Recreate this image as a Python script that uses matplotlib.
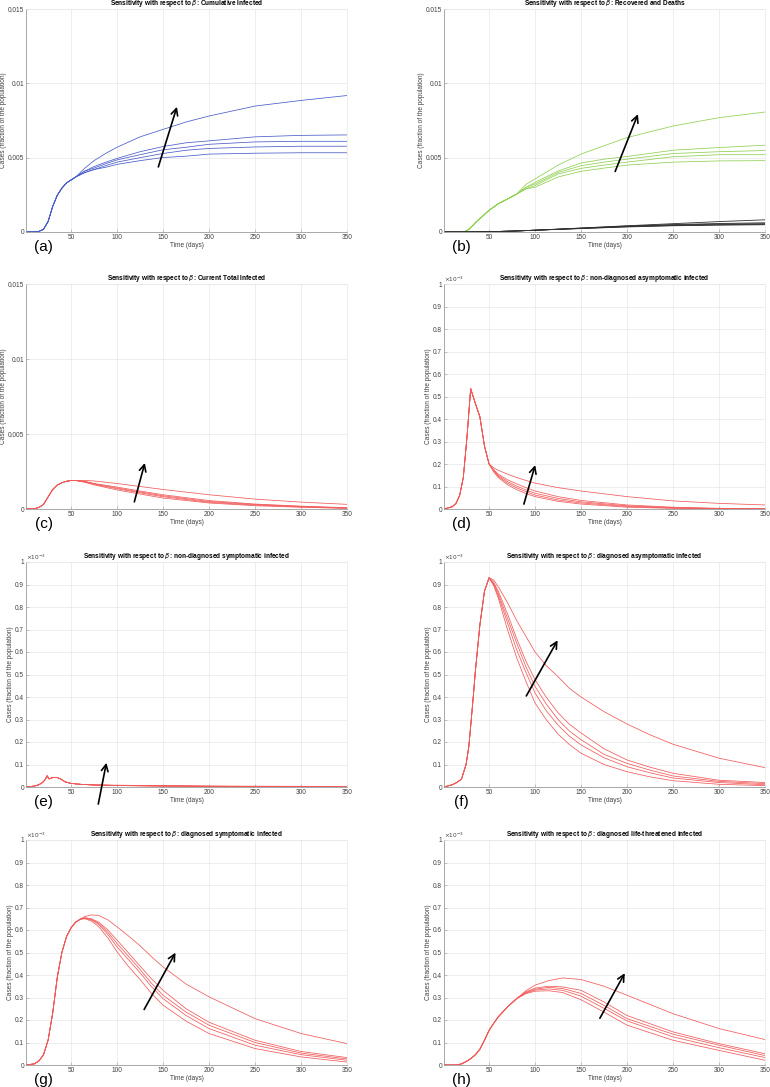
import numpy as np
import matplotlib
matplotlib.use("Agg")
import matplotlib.pyplot as plt
from matplotlib.ticker import FuncFormatter

plt.rcParams['font.family'] = ['Liberation Sans', 'DejaVu Sans']
plt.rcParams['mathtext.fontset'] = 'dejavusans'

days_max = 350
xticks = [50, 100, 150, 200, 250, 300, 350]

# (a) cumulative infected: common rise, then 5 beta values (top first)
a_t0 = [1, 10, 15, 20, 25, 30, 35, 40, 45, 50, 55]
a_y0 = [0, 0.00001, 0.00004, 0.00018, 0.0007, 0.00172, 0.00247, 0.00295, 0.0033, 0.0035, 0.0037]
a_t1 = [65, 75, 88, 100, 125, 150, 175, 200, 250, 300, 350]
a_y1 = [
    [0.0043, 0.0048, 0.0053, 0.0057, 0.0064, 0.0069, 0.0074, 0.0078, 0.00847, 0.00885, 0.00918],
    [0.0041, 0.0044, 0.0047, 0.00495, 0.0054, 0.00575, 0.0060, 0.00613, 0.0064, 0.0065, 0.00653],
    [0.0041, 0.0043, 0.0046, 0.00485, 0.0052, 0.00553, 0.0057, 0.0059, 0.00606, 0.0061, 0.0061],
    [0.0040, 0.0042, 0.00447, 0.0047, 0.0050, 0.00528, 0.0055, 0.00562, 0.00572, 0.00577, 0.00577],
    [0.0040, 0.0042, 0.00436, 0.00455, 0.0048, 0.00501, 0.0051, 0.00524, 0.0053, 0.00533, 0.00533],
]

# (b) recovered (green) and deaths (black)
b_t0 = [1, 20, 24, 28, 32, 36, 40, 45, 50, 60, 70, 80]
b_y0 = [0, 0, 0.00004, 0.00018, 0.00042, 0.00068, 0.0009, 0.00118, 0.00146, 0.0019, 0.00222, 0.00255]
b_t1 = [90, 100, 125, 150, 175, 200, 250, 300, 350]
b_y1 = [
    [0.0032, 0.00357, 0.0045, 0.00524, 0.0058, 0.00635, 0.00713, 0.00769, 0.00807],
    [0.0030, 0.00334, 0.0041, 0.00464, 0.0049, 0.00508, 0.0055, 0.00568, 0.00584],
    [0.0030, 0.00323, 0.0040, 0.00446, 0.0047, 0.0049, 0.00528, 0.0054, 0.00548],
    [0.0029, 0.00312, 0.0039, 0.00428, 0.0045, 0.0047, 0.00506, 0.0052, 0.0052],
    [0.0029, 0.00301, 0.0037, 0.00408, 0.0043, 0.0045, 0.0047, 0.00478, 0.0048],
]
deaths_t = [1, 25, 50, 75, 100, 150, 200, 250, 300, 350]
deaths = [
    [0, 0, 0.00002, 0.00006, 0.00012, 0.00027, 0.00042, 0.00056, 0.0007, 0.00082],
    [0, 0, 0.00002, 0.00006, 0.00012, 0.00026, 0.0004, 0.0005, 0.00057, 0.00062],
    [0, 0, 0.00002, 0.00006, 0.00012, 0.00025, 0.00038, 0.00047, 0.00053, 0.00056],
    [0, 0, 0.00002, 0.00006, 0.00012, 0.00024, 0.00036, 0.00044, 0.00049, 0.00052],
    [0, 0, 0.00002, 0.00006, 0.00012, 0.00023, 0.00034, 0.00042, 0.00046, 0.00049],
]

# (c) current total infected
c_t0 = [1, 10, 15, 20, 25, 30, 35, 40, 45, 50, 55]
c_y0 = [0, 0.00002, 0.0001, 0.0003, 0.0008, 0.0013, 0.0016, 0.00175, 0.00185, 0.0019, 0.0019]
c_t1 = [65, 75, 100, 125, 150, 200, 250, 300, 350]
c_y1 = [
    [0.0019, 0.00187, 0.0017, 0.0015, 0.0013, 0.00095, 0.00066, 0.00046, 0.00031],
    [0.00185, 0.0017, 0.00146, 0.0012, 0.00095, 0.00056, 0.00033, 0.00019, 0.000085],
    [0.00183, 0.00168, 0.0014, 0.00114, 0.00088, 0.0005, 0.0003, 0.00017, 0.00007],
    [0.0018, 0.00165, 0.00135, 0.00108, 0.00082, 0.00045, 0.00026, 0.000145, 0.000055],
    [0.00178, 0.00161, 0.00127, 0.001, 0.00073, 0.0004, 0.00022, 0.000115, 0.00004],
]

# panels (d)-(h) read in units of 1e-3
d_t0 = [1, 10, 14, 18, 22, 26, 30, 35, 40, 45, 50]
d_y0 = [0, 0.01, 0.025, 0.06, 0.14, 0.32, 0.535, 0.47, 0.41, 0.28, 0.2]
d_t1 = [55, 60, 70, 80, 90, 100, 125, 150, 200, 250, 300, 350]
d_y1 = [
    [0.183, 0.172, 0.155, 0.14, 0.127, 0.115, 0.095, 0.08, 0.055, 0.036, 0.025, 0.018],
    [0.175, 0.155, 0.13, 0.112, 0.095, 0.08, 0.055, 0.038, 0.018, 0.008, 0.003, 0.001],
    [0.172, 0.15, 0.122, 0.102, 0.085, 0.07, 0.047, 0.032, 0.014, 0.006, 0.002, 0.001],
    [0.169, 0.145, 0.115, 0.094, 0.077, 0.062, 0.04, 0.027, 0.011, 0.004, 0.002, 0.0005],
    [0.165, 0.14, 0.108, 0.086, 0.069, 0.055, 0.034, 0.022, 0.008, 0.003, 0.001, 0.0003],
]

e_t0 = [1, 10, 15, 19, 22, 24, 26, 30, 34, 38, 44, 50, 60, 75]
e_y0 = [0, 0.004, 0.01, 0.02, 0.034, 0.05, 0.036, 0.042, 0.043, 0.037, 0.022, 0.016, 0.012, 0.009]
e_t1 = [100, 150, 200, 250, 300, 350]
e_y1 = [
    [0.008, 0.006, 0.0045, 0.0035, 0.003, 0.0025],
    [0.007, 0.005, 0.0035, 0.002, 0.0012, 0.0006],
    [0.0068, 0.0047, 0.003, 0.0018, 0.001, 0.0005],
    [0.0066, 0.0044, 0.0027, 0.0015, 0.0008, 0.0004],
    [0.0064, 0.0041, 0.0024, 0.0012, 0.0006, 0.0003],
]

f_t0 = [1, 10, 15, 20, 25, 28, 30, 33, 35, 40, 45, 50]
f_y0 = [0, 0.01, 0.02, 0.035, 0.1, 0.18, 0.27, 0.41, 0.51, 0.72, 0.87, 0.93]
f_t1 = [55, 60, 70, 80, 90, 100, 112, 125, 137, 150, 175, 200, 225, 250, 300, 350]
f_y1 = [
    [0.92, 0.89, 0.82, 0.74, 0.67, 0.60, 0.54, 0.49, 0.44, 0.40, 0.335, 0.28, 0.232, 0.19, 0.128, 0.086],
    [0.91, 0.87, 0.77, 0.66, 0.56, 0.477, 0.40, 0.33, 0.28, 0.24, 0.17, 0.12, 0.088, 0.061, 0.03, 0.02],
    [0.905, 0.86, 0.75, 0.64, 0.535, 0.447, 0.37, 0.30, 0.25, 0.21, 0.145, 0.105, 0.075, 0.049, 0.025, 0.015],
    [0.90, 0.85, 0.73, 0.61, 0.51, 0.418, 0.34, 0.275, 0.227, 0.187, 0.13, 0.09, 0.063, 0.04, 0.02, 0.01],
    [0.895, 0.84, 0.70, 0.575, 0.47, 0.373, 0.30, 0.235, 0.19, 0.15, 0.10, 0.068, 0.045, 0.028, 0.012, 0.006],
]

g_t0 = [1, 10, 15, 20, 25, 30, 35, 40, 45, 50, 55, 60]
g_y0 = [0, 0.005, 0.018, 0.045, 0.11, 0.23, 0.39, 0.5, 0.57, 0.61, 0.635, 0.648]
g_t1 = [65, 72, 80, 90, 100, 112, 125, 137, 150, 175, 200, 250, 300, 350]
g_y1 = [
    [0.66, 0.667, 0.665, 0.645, 0.614, 0.575, 0.53, 0.483, 0.436, 0.36, 0.303, 0.206, 0.14, 0.095],
    [0.655, 0.65, 0.635, 0.6, 0.555, 0.5, 0.44, 0.385, 0.332, 0.25, 0.19, 0.11, 0.06, 0.033],
    [0.653, 0.647, 0.63, 0.59, 0.54, 0.485, 0.425, 0.365, 0.31, 0.235, 0.177, 0.10, 0.053, 0.027],
    [0.652, 0.645, 0.625, 0.58, 0.525, 0.47, 0.41, 0.35, 0.295, 0.22, 0.162, 0.088, 0.046, 0.021],
    [0.65, 0.64, 0.615, 0.565, 0.503, 0.44, 0.38, 0.32, 0.266, 0.195, 0.14, 0.073, 0.036, 0.013],
]

h_t0 = [1, 15, 20, 25, 30, 35, 40, 45, 50, 55, 60, 70, 80]
h_y0 = [0, 0, 0.005, 0.015, 0.028, 0.045, 0.07, 0.11, 0.154, 0.185, 0.214, 0.258, 0.295]
h_t1 = [90, 100, 115, 130, 150, 175, 200, 250, 300, 350]
h_y1 = [
    [0.33, 0.355, 0.375, 0.387, 0.38, 0.35, 0.31, 0.228, 0.162, 0.113],
    [0.325, 0.342, 0.35, 0.347, 0.332, 0.28, 0.22, 0.147, 0.095, 0.05],
    [0.322, 0.337, 0.345, 0.34, 0.318, 0.265, 0.206, 0.137, 0.088, 0.042],
    [0.32, 0.333, 0.338, 0.332, 0.306, 0.252, 0.196, 0.125, 0.077, 0.033],
    [0.317, 0.328, 0.33, 0.322, 0.29, 0.235, 0.177, 0.11, 0.065, 0.021],
]

titles = [
    'Cumulative Infected', 'Recovered and Deaths', 'Current Total Infected',
    'non-diagnosed asymptomatic infected', 'non-diagnosed symptomatic infected',
    'diagnosed asymptomatic infected', 'diagnosed symptomatic infected',
    'diagnosed life-threatened infected',
]
letters = ['(a)', '(b)', '(c)', '(d)', '(e)', '(f)', '(g)', '(h)']

# arrows (tail, head) in data units; small panels in 1e-3
arrows = [
    ((144, 0.0042), (166, 0.0086)),
    ((186, 0.0039), (213, 0.0081)),
    ((118, 0.0003), (131, 0.00325)),
    ((87, 0.01), (101, 0.207)),
    ((79, -0.088), (89, 0.12)),
    ((89, 0.394), (126, 0.663)),
    ((128, 0.236), (165, 0.51)),
    ((169, 0.197), (199, 0.419)),
]

red = '#f25a5a'
blue = '#4a5cc8'
green = '#8fd052'

fig = plt.figure(figsize=(7.7, 10.87), dpi=100)
W, H = 770, 1087
lefts = [26, 444]
bottoms = [232, 509, 787, 1065]
heights = [223, 225, 225, 225]
aw = 321

axes = []
for i in range(8):
    r, c = divmod(i, 2)
    ax = fig.add_axes([lefts[c] / W, 1 - bottoms[r] / H, aw / W, heights[r] / H])
    axes.append(ax)


def draw(ax, t0, y0, t1, y1, color, scale=1.0):
    for s in y1:
        ax.plot(t0 + t1, np.array(y0 + s) * scale, color=color, lw=0.55)


draw(axes[0], a_t0, a_y0, a_t1, a_y1, blue)
draw(axes[1], b_t0, b_y0, b_t1, b_y1, green)
for s in deaths:
    axes[1].plot(deaths_t, s, color='#303030', lw=0.6)
draw(axes[2], c_t0, c_y0, c_t1, c_y1, red)
draw(axes[3], d_t0, d_y0, d_t1, d_y1, red, 1e-3)
draw(axes[4], e_t0, e_y0, e_t1, e_y1, red, 1e-3)
draw(axes[5], f_t0, f_y0, f_t1, f_y1, red, 1e-3)
draw(axes[6], g_t0, g_y0, g_t1, g_y1, red, 1e-3)
draw(axes[7], h_t0, h_y0, h_t1, h_y1, red, 1e-3)

fs = 4.7
for i, ax in enumerate(axes):
    ax.set_xlim(1, days_max)
    ax.set_xticks(xticks)
    if i < 3:
        ax.set_ylim(0, 0.015)
        ax.set_yticks([0, 0.005, 0.01, 0.015])
        ax.yaxis.set_major_formatter(FuncFormatter(lambda v, p: '%g' % round(v, 4)))
        sc = 1.0
    else:
        ax.set_ylim(0, 1e-3)
        ax.set_yticks(np.arange(0, 11) * 1e-4)
        ax.yaxis.set_major_formatter(FuncFormatter(lambda v, p: '%g' % round(v * 1e3, 2)))
        ax.text(0.0, 1.0, r'$\times10^{-3}$', transform=ax.transAxes, fontsize=4.2,
                color='#404040', ha='left', va='bottom')
        sc = 1e-3
    ax.grid(True, color='#e8e8e8', lw=0.5)
    ax.set_axisbelow(True)
    for side in ['top', 'right']:
        ax.spines[side].set_color('#e8e8e8')
        ax.spines[side].set_linewidth(0.5)
    for side in ['left', 'bottom']:
        ax.spines[side].set_color('#9a9a9a')
        ax.spines[side].set_linewidth(0.6)
    ax.tick_params(direction='in', length=2, width=0.4, colors='#9a9a9a',
                   labelsize=fs, labelcolor='#404040', pad=1.5)
    ax.set_title(r'Sensitivity with respect to $\beta$: ' + titles[i],
                 fontsize=4.7, fontweight='bold', pad=0.4)
    ax.set_xlabel('Time (days)', fontsize=fs, color='#404040', labelpad=1)
    ax.set_ylabel('Cases (fraction of the population)', fontsize=fs, color='#404040', labelpad=0.5)
    ax.text(0.055, -0.068, letters[i], transform=ax.transAxes, fontsize=11,
            ha='center', va='center')
    (tx, ty), (hx, hy) = arrows[i]
    ax.annotate('', xy=(hx, hy * sc), xytext=(tx, ty * sc),
                arrowprops=dict(arrowstyle='->', color='black', lw=1.2, mutation_scale=12),
                annotation_clip=False)

fig.savefig('out.png', dpi=100)
